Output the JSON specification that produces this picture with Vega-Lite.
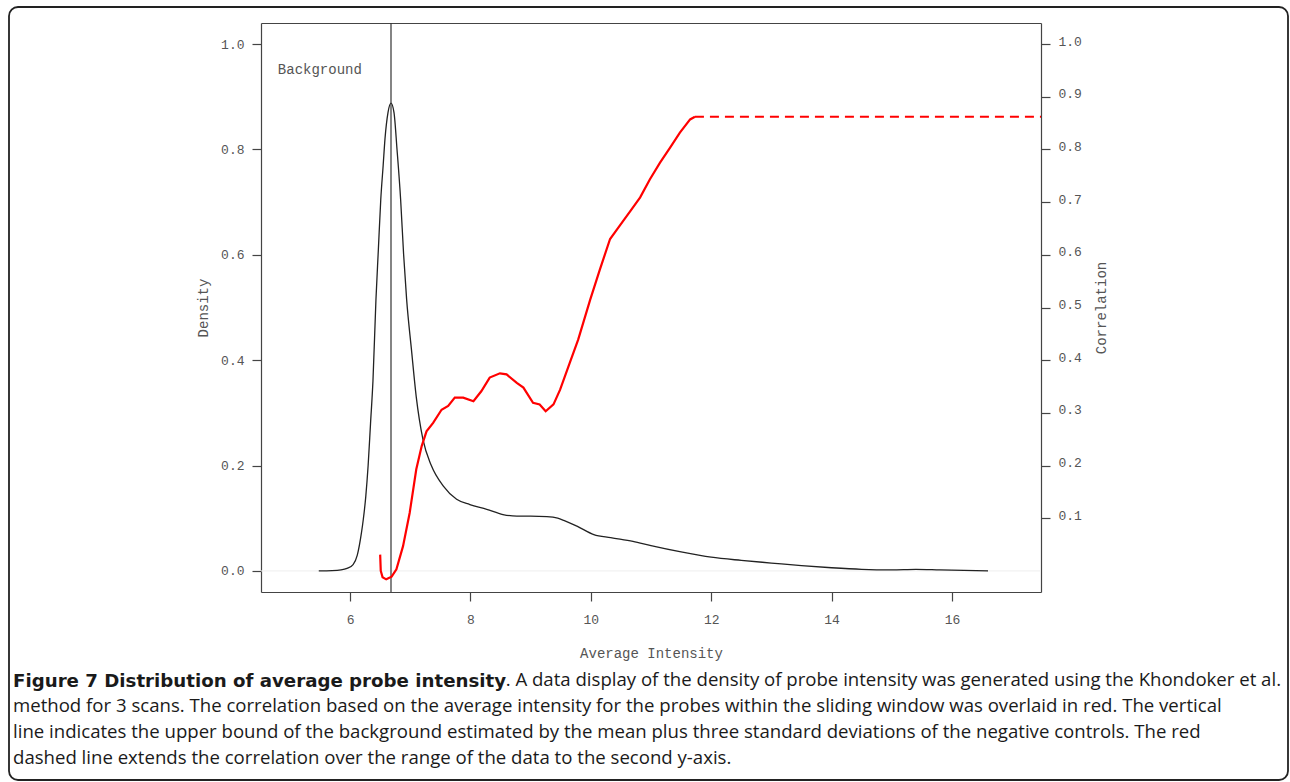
{
  "$schema": "https://vega.github.io/schema/vega-lite/v6.json",
  "width": 1279,
  "height": 773,
  "autosize": {"type": "none"},
  "padding": {"left": 9, "top": 7, "right": 2, "bottom": 2},
  "background": "white",
  "title": {
    "text": "Figure 7 Distribution of average probe intensity",
    "subtitle": [
      "\u200b\u00a0\u00a0\u00a0\u00a0\u00a0\u00a0\u00a0\u00a0\u00a0\u00a0\u00a0\u00a0\u00a0\u00a0\u00a0\u00a0\u00a0\u00a0\u00a0\u00a0\u00a0\u00a0\u00a0\u00a0\u00a0\u00a0\u00a0\u00a0\u00a0\u00a0\u00a0\u00a0\u00a0\u00a0\u00a0\u00a0\u00a0\u00a0\u00a0\u00a0\u00a0\u00a0\u00a0\u00a0\u00a0\u00a0\u00a0\u00a0\u00a0\u00a0\u00a0\u00a0\u00a0\u00a0\u00a0\u00a0\u00a0\u00a0\u00a0\u00a0\u00a0\u00a0\u00a0\u00a0\u00a0\u00a0\u00a0\u00a0\u00a0\u00a0\u00a0\u00a0\u00a0\u00a0\u00a0\u00a0\u00a0\u00a0\u00a0\u00a0\u00a0\u00a0\u00a0\u00a0\u00a0\u00a0\u00a0\u00a0\u00a0\u00a0\u00a0\u00a0\u00a0\u00a0\u00a0\u00a0\u00a0\u00a0\u00a0\u00a0\u00a0\u00a0. A data display of the density of probe intensity was generated using the Khondoker et al.",
      "method for 3 scans. The correlation based on the average intensity for the probes within the sliding window was overlaid in red. The vertical",
      "line indicates the upper bound of the background estimated by the mean plus three standard deviations of the negative controls. The red",
      "dashed line extends the correlation over the range of the data to the second y-axis."
    ],
    "orient": "bottom",
    "anchor": "start",
    "frame": "group",
    "offset": -107,
    "dx": 4,
    "font": "DejaVu Sans",
    "fontSize": 18.2,
    "fontWeight": "bold",
    "color": "#1a1a1a",
    "lineHeight": 26,
    "subtitleFont": "Open Sans",
    "subtitleFontSize": 18.6,
    "subtitleFontWeight": "normal",
    "subtitleColor": "#1a1a1a",
    "subtitleLineHeight": 26,
    "subtitlePadding": -20
  },
  "datasets": {
    "baseline": [{"x1": 4.52, "x2": 17.48, "y": 0}],
    "density": [
      {"x": 5.48, "d": 0}, {"x": 5.7, "d": 0.0005}, {"x": 5.85, "d": 0.002}, {"x": 5.95, "d": 0.005},
      {"x": 6.05, "d": 0.012}, {"x": 6.12, "d": 0.03}, {"x": 6.19, "d": 0.073}, {"x": 6.22, "d": 0.098},
      {"x": 6.26, "d": 0.14}, {"x": 6.3, "d": 0.2}, {"x": 6.34, "d": 0.28}, {"x": 6.38, "d": 0.36},
      {"x": 6.43, "d": 0.515}, {"x": 6.47, "d": 0.61}, {"x": 6.51, "d": 0.705}, {"x": 6.55, "d": 0.77},
      {"x": 6.58, "d": 0.82}, {"x": 6.63, "d": 0.87}, {"x": 6.68, "d": 0.888}, {"x": 6.73, "d": 0.87},
      {"x": 6.78, "d": 0.8}, {"x": 6.84, "d": 0.705}, {"x": 6.89, "d": 0.6}, {"x": 6.94, "d": 0.515},
      {"x": 7.02, "d": 0.42}, {"x": 7.1, "d": 0.33}, {"x": 7.21, "d": 0.25}, {"x": 7.35, "d": 0.2},
      {"x": 7.55, "d": 0.161}, {"x": 7.77, "d": 0.136}, {"x": 7.99, "d": 0.126}, {"x": 8.27, "d": 0.117},
      {"x": 8.54, "d": 0.107}, {"x": 8.77, "d": 0.104}, {"x": 9.0, "d": 0.104}, {"x": 9.27, "d": 0.103},
      {"x": 9.45, "d": 0.1}, {"x": 9.55, "d": 0.096}, {"x": 9.77, "d": 0.085}, {"x": 10.05, "d": 0.069},
      {"x": 10.33, "d": 0.063}, {"x": 10.7, "d": 0.056}, {"x": 11.0, "d": 0.048}, {"x": 11.5, "d": 0.036},
      {"x": 12.0, "d": 0.026}, {"x": 12.5, "d": 0.02}, {"x": 13.0, "d": 0.015}, {"x": 13.5, "d": 0.01},
      {"x": 14.0, "d": 0.006}, {"x": 14.5, "d": 0.003}, {"x": 15.0, "d": 0.002}, {"x": 15.4, "d": 0.003},
      {"x": 15.8, "d": 0.002}, {"x": 16.2, "d": 0.001}, {"x": 16.6, "d": 0.0}
    ],
    "vline": [{"x": 6.68, "y1": -0.04, "y2": 1.04}],
    "label": [{"x": 4.8, "y": 0.95, "text": "Background"}],
    "correlation": [
      {"x": 6.5, "r": 0.031}, {"x": 6.51, "r": 0.0}, {"x": 6.54, "r": -0.012}, {"x": 6.6, "r": -0.016},
      {"x": 6.69, "r": -0.011}, {"x": 6.77, "r": 0.003}, {"x": 6.88, "r": 0.047}, {"x": 6.99, "r": 0.11},
      {"x": 7.1, "r": 0.193}, {"x": 7.19, "r": 0.237}, {"x": 7.27, "r": 0.265}, {"x": 7.38, "r": 0.281},
      {"x": 7.52, "r": 0.306}, {"x": 7.63, "r": 0.313}, {"x": 7.74, "r": 0.329}, {"x": 7.88, "r": 0.329},
      {"x": 8.05, "r": 0.322}, {"x": 8.18, "r": 0.341}, {"x": 8.32, "r": 0.367}, {"x": 8.49, "r": 0.375},
      {"x": 8.6, "r": 0.373}, {"x": 8.77, "r": 0.357}, {"x": 8.88, "r": 0.348}, {"x": 9.04, "r": 0.319},
      {"x": 9.15, "r": 0.316}, {"x": 9.25, "r": 0.303}, {"x": 9.38, "r": 0.316}, {"x": 9.49, "r": 0.344},
      {"x": 9.65, "r": 0.395}, {"x": 9.79, "r": 0.439}, {"x": 9.99, "r": 0.515}, {"x": 10.15, "r": 0.572},
      {"x": 10.32, "r": 0.63}, {"x": 10.49, "r": 0.657}, {"x": 10.65, "r": 0.682}, {"x": 10.82, "r": 0.709},
      {"x": 10.98, "r": 0.743}, {"x": 11.15, "r": 0.775}, {"x": 11.32, "r": 0.804}, {"x": 11.48, "r": 0.832},
      {"x": 11.65, "r": 0.857}, {"x": 11.73, "r": 0.862}
    ],
    "extension": [{"x1": 11.73, "x2": 17.48, "y": 0.862}]
  },
  "config": {
    "view": {"stroke": "#222222", "strokeWidth": 1.8, "cornerRadius": 9},
    "axis": {
      "labelFont": "Liberation Mono",
      "labelFontSize": 13,
      "labelColor": "#555555",
      "titleFont": "Liberation Mono",
      "titleFontSize": 14,
      "titleFontWeight": "normal",
      "titleColor": "#555555",
      "domainColor": "#444444",
      "tickColor": "#444444",
      "domainWidth": 1.2,
      "tickWidth": 1.2,
      "grid": false
    }
  },
  "resolve": {"axis": {"x": "independent", "y": "independent"}},
  "layer": [
    {
      "data": {"name": "baseline"},
      "mark": {"type": "rule", "color": "#eeeeee", "strokeWidth": 1},
      "encoding": {
        "x": {"field": "x1", "type": "quantitative", "scale": {"domain": [4.52, 17.48], "range": [252, 1032], "nice": false, "zero": false}, "axis": null},
        "x2": {"field": "x2"},
        "y": {"field": "y", "type": "quantitative", "scale": {"domain": [-0.04, 1.04], "range": [585, 16], "nice": false, "zero": false}, "axis": null}
      }
    },
    {
      "data": {"name": "density"},
      "mark": {"type": "line", "color": "#222222", "strokeWidth": 1.3, "interpolate": "monotone"},
      "encoding": {
        "x": {
          "field": "x", "type": "quantitative",
          "scale": {"domain": [4.52, 17.48], "range": [252, 1032], "nice": false, "zero": false},
          "axis": {"orient": "bottom", "offset": -188, "values": [6, 8, 10, 12, 14, 16], "title": "Average Intensity", "tickSize": 9, "labelPadding": 12, "titlePadding": 20}
        },
        "y": {
          "field": "d", "type": "quantitative",
          "scale": {"domain": [-0.04, 1.04], "range": [585, 16], "nice": false, "zero": false},
          "axis": {"orient": "left", "offset": -252, "values": [0, 0.2, 0.4, 0.6, 0.8, 1.0], "format": ".1f", "title": "Density", "tickSize": 9, "labelPadding": 8, "titlePadding": 10}
        }
      }
    },
    {
      "data": {"name": "vline"},
      "mark": {"type": "rule", "color": "#333333", "strokeWidth": 1.2},
      "encoding": {
        "x": {"field": "x", "type": "quantitative", "scale": {"domain": [4.52, 17.48], "range": [252, 1032], "nice": false, "zero": false}, "axis": null},
        "y": {"field": "y1", "type": "quantitative", "scale": {"domain": [-0.04, 1.04], "range": [585, 16], "nice": false, "zero": false}, "axis": null},
        "y2": {"field": "y2"}
      }
    },
    {
      "data": {"name": "label"},
      "mark": {"type": "text", "font": "Liberation Mono", "fontSize": 14, "color": "#555555", "align": "left", "baseline": "middle"},
      "encoding": {
        "x": {"field": "x", "type": "quantitative", "scale": {"domain": [4.52, 17.48], "range": [252, 1032], "nice": false, "zero": false}, "axis": null},
        "y": {"field": "y", "type": "quantitative", "scale": {"domain": [-0.04, 1.04], "range": [585, 16], "nice": false, "zero": false}, "axis": null},
        "text": {"field": "text"}
      }
    },
    {
      "data": {"name": "correlation"},
      "mark": {"type": "line", "color": "#ff0000", "strokeWidth": 2.2, "interpolate": "linear"},
      "encoding": {
        "x": {
          "field": "x", "type": "quantitative",
          "scale": {"domain": [4.52, 17.48], "range": [252, 1032], "nice": false, "zero": false},
          "axis": {"orient": "top", "offset": -16, "ticks": false, "labels": false, "title": null}
        },
        "y": {
          "field": "r", "type": "quantitative",
          "scale": {"domain": [-0.04, 1.04], "range": [585, 16], "nice": false, "zero": false},
          "axis": {"orient": "right", "offset": -247, "values": [0.1, 0.2, 0.3, 0.4, 0.5, 0.6, 0.7, 0.8, 0.9, 1.0], "format": ".1f", "title": "Correlation", "titleAngle": 270, "tickSize": 9, "labelPadding": 8, "labelOffset": -3, "titlePadding": 27}
        }
      }
    },
    {
      "data": {"name": "extension"},
      "mark": {"type": "rule", "color": "#ff0000", "strokeWidth": 2, "strokeDash": [9, 6]},
      "encoding": {
        "x": {"field": "x1", "type": "quantitative", "scale": {"domain": [4.52, 17.48], "range": [252, 1032], "nice": false, "zero": false}, "axis": null},
        "x2": {"field": "x2"},
        "y": {"field": "y", "type": "quantitative", "scale": {"domain": [-0.04, 1.04], "range": [585, 16], "nice": false, "zero": false}, "axis": null}
      }
    }
  ]
}
